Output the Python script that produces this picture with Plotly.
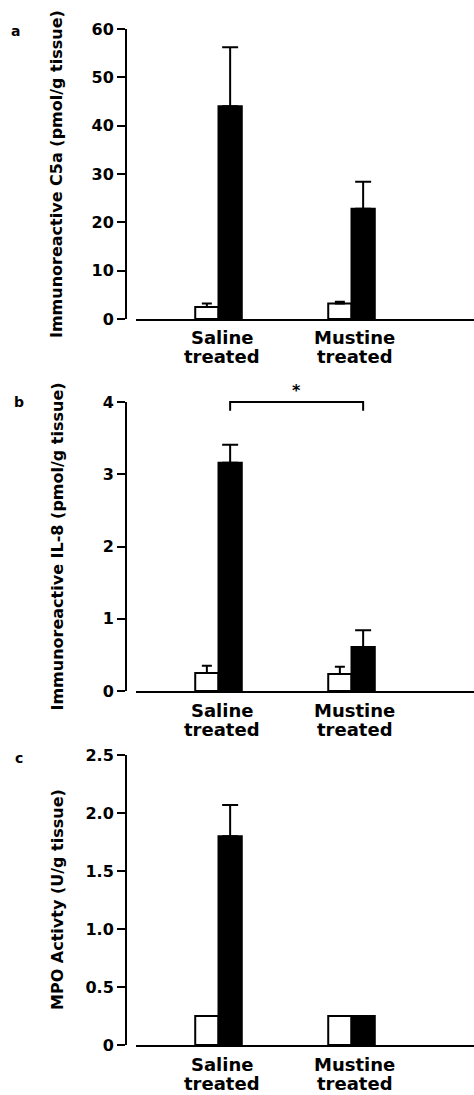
import plotly.graph_objects as go

W, H = 474, 1095

# ---------------- data ----------------
groups_line1 = ["Saline", "Mustine"]
groups_line2 = ["treated", "treated"]
group_pos = [0, 1]

c5a_white = [2.5, 3.2]
c5a_white_err = [0.7, 0.35]
c5a_black = [44.0, 22.8]
c5a_black_err = [12.2, 5.6]

il8_white = [0.25, 0.235]
il8_white_err = [0.10, 0.10]
il8_black = [3.16, 0.61]
il8_black_err = [0.25, 0.23]

mpo_white = [0.25, 0.25]
mpo_white_err = [None, None]
mpo_black = [1.80, 0.25]
mpo_black_err = [0.27, None]

c5a_ticks = [0, 10, 20, 30, 40, 50, 60]
c5a_ticktext = ["0", "10", "20", "30", "40", "50", "60"]
il8_ticks = [0, 1, 2, 3, 4]
il8_ticktext = ["0", "1", "2", "3", "4"]
mpo_ticks = [0, 0.5, 1.0, 1.5, 2.0, 2.5]
mpo_ticktext = ["0", "0.5", "1.0", "1.5", "2.0", "2.5"]

titles = ["Immunoreactive C5a (pmol/g tissue)",
          "Immunoreactive IL-8 (pmol/g tissue)",
          "MPO Activty (U/g tissue)"]
letters = ["a", "b", "c"]

# significance bracket (panel b) between the two black bars
sig_y = 4.0
sig_drop = 0.12

# ---------------- layout geometry ----------------
FONT = "DejaVu Sans"
px_x = lambda p: p / W
px_y = lambda p: 1 - p / H

# panel vertical extents (px): top, bottom
panels = [(29, 319), (402, 691), (755, 1045)]
x_left_px, x_right_px = 136, 474
yaxis_px = 126
boundary_px = 218.5
unit_px = 133.0
xr = [(x_left_px - boundary_px) / unit_px, (x_right_px - boundary_px) / unit_px]
bw = 0.175

yranges = [[0, 60], [0, 4], [0, 2.5]]
ticks = [(c5a_ticks, c5a_ticktext), (il8_ticks, il8_ticktext), (mpo_ticks, mpo_ticktext)]
data = [
    (c5a_white, c5a_white_err, c5a_black, c5a_black_err),
    (il8_white, il8_white_err, il8_black, il8_black_err),
    (mpo_white, mpo_white_err, mpo_black, mpo_black_err),
]
letter_pos = [(15, 31), (19, 402), (19, 758)]

fig = go.Figure()
layout = dict(
    width=W, height=H,
    margin=dict(l=0, r=0, t=0, b=0, pad=0, autoexpand=False),
    paper_bgcolor="white", plot_bgcolor="white",
    showlegend=False,
    font=dict(family=FONT, color="black", size=16, weight="bold"),
    annotations=[], shapes=[],
)

for i in range(3):
    sfx = "" if i == 0 else str(i + 1)
    xa, ya = "x" + sfx, "y" + sfx
    wv, we, bv, be = data[i]
    fig.add_trace(go.Bar(
        x=group_pos, y=wv, width=bw, offset=-bw,
        marker=dict(color="white", line=dict(color="black", width=2)),
        error_y=dict(type="data", array=we, arrayminus=[0] * len(we), symmetric=False,
                     color="black", thickness=2, width=5),
        xaxis=xa, yaxis=ya))
    fig.add_trace(go.Bar(
        x=group_pos, y=bv, width=bw, offset=0,
        marker=dict(color="black", line=dict(color="black", width=2)),
        error_y=dict(type="data", array=be, arrayminus=[0] * len(be), symmetric=False,
                     color="black", thickness=2, width=8),
        xaxis=xa, yaxis=ya))

    top, bot = panels[i]
    dom = [px_y(bot), px_y(top)]
    layout["xaxis" + sfx] = dict(
        domain=[px_x(x_left_px), px_x(x_right_px)], anchor=ya, range=xr,
        showline=True, linewidth=2, linecolor="black",
        showgrid=False, zeroline=False, showticklabels=False, ticks="",
        automargin=False, fixedrange=True)
    layout["yaxis" + sfx] = dict(
        domain=dom, anchor="free", position=px_x(yaxis_px), range=yranges[i],
        tickvals=ticks[i][0], ticktext=ticks[i][1],
        showline=True, linewidth=2, linecolor="black",
        ticks="outside", ticklen=8, tickwidth=2, tickcolor="black",
        showgrid=False, zeroline=False, automargin=False,
        tickfont=dict(family=FONT, size=16, color="black", weight="bold"),
        fixedrange=True)

    # category labels (two lines)
    for g, (l1, l2) in enumerate(zip(groups_line1, groups_line2)):
        for txt, dy in ((l1, -19), (l2, -38)):
            layout["annotations"].append(dict(
                x=group_pos[g], xref=xa, y=0, yref=ya + " domain",
                text=txt, showarrow=False, xanchor="center", yanchor="middle",
                xshift=3, yshift=dy,
                font=dict(family=FONT, size=18, color="black", weight="bold")))

    # y-axis title
    layout["annotations"].append(dict(
        x=px_x(57), xref="paper", y=0.5, yref=ya + " domain",
        text=titles[i], textangle=-90, showarrow=False,
        xanchor="center", yanchor="middle",
        font=dict(family=FONT, size=16, color="black", weight="bold")))

    # panel letter
    lx, ly = letter_pos[i]
    layout["annotations"].append(dict(
        x=px_x(lx), xref="paper", y=px_y(ly), yref="paper",
        text=letters[i], showarrow=False, xanchor="center", yanchor="middle",
        font=dict(family=FONT, size=14, color="black", weight="bold")))

# significance bracket in panel b, converted from data to paper coords
top, bot = panels[1]
def bx(v):
    return px_x(boundary_px + v * unit_px)
def by(v):
    return px_y(bot - (v - yranges[1][0]) / (yranges[1][1] - yranges[1][0]) * (bot - top))

x1 = bx(group_pos[0] + bw / 2)
x2 = bx(group_pos[1] + bw / 2)
path = (f"M {x1},{by(sig_y - sig_drop)} L {x1},{by(sig_y)} "
        f"L {x2},{by(sig_y)} L {x2},{by(sig_y - sig_drop)}")
layout["shapes"].append(dict(type="path", xref="paper", yref="paper", path=path,
                             line=dict(color="black", width=2)))
layout["annotations"].append(dict(
    x=(x1 + x2) / 2, xref="paper", y=by(sig_y), yref="paper",
    text="*", showarrow=False, xanchor="center", yanchor="bottom", yshift=0,
    font=dict(family=FONT, size=16, color="black", weight="bold")))

fig.update_layout(**layout)
fig.write_html(
    "out.html",
    config={"displayModeBar": False, "staticPlot": True},
    post_script="document.body.style.margin='0';document.body.style.overflow='hidden';",
)
